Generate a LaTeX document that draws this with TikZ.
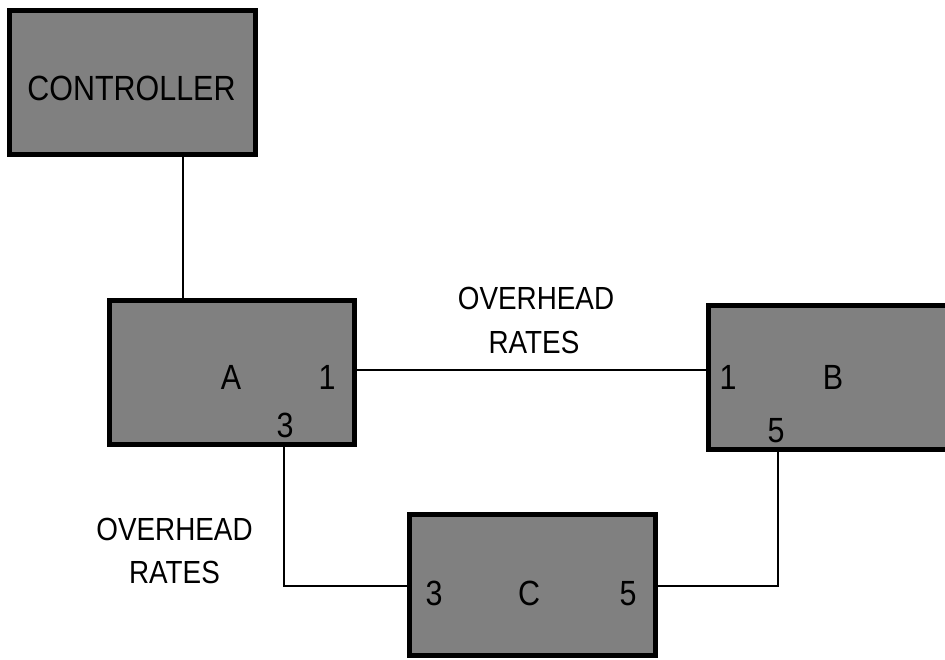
\documentclass[tikz,border=0pt]{standalone}
\usepackage{fontspec}
\setmainfont{Liberation Sans}[FakeStretch=0.87]
\begin{document}
\begin{tikzpicture}[x=1pt,y=-1pt,
  box/.style={draw=black, fill={rgb,255:red,128;green,128;blue,128}, line width=5pt, inner sep=0pt, outer sep=0pt},
  wire/.style={draw=black, line width=1.6pt},
  boxtxt/.style={anchor=base, inner sep=0pt, font=\fontsize{35}{42}\selectfont},
  lbl/.style={anchor=base, inner sep=0pt, font=\fontsize{32}{38}\selectfont}]
\useasboundingbox (0,0) rectangle (945,659);
\clip (0,0) rectangle (945,659);
% boxes
\node[box, minimum width=246pt, minimum height=144pt] (ctrl) at (132.5,82.5) {};
\node[box, minimum width=245pt, minimum height=144pt] (A) at (232,372.5) {};
\node[box, minimum width=245pt, minimum height=144pt] (B) at (831,377.5) {};
\node[box, minimum width=246pt, minimum height=141pt] (C) at (532.5,585) {};
% connector coordinates
\coordinate (cx) at (183,0);
\coordinate (ab) at (0,370);
\coordinate (ax) at (284,0);
\coordinate (cy) at (0,586);
\coordinate (bx) at (778,0);
% connectors
\draw[wire] (ctrl.south -| cx) -- (A.north -| cx);
\draw[wire] (A.east |- ab) -- (B.west |- ab);
\draw[wire] (A.south -| ax) |- (C.west |- cy);
\draw[wire] (C.east |- cy) -| (B.south -| bx);
% box texts
\node[boxtxt] (tctrl) at (131.5,100) {CONTROLLER};
\node[boxtxt] (tA) at (231,389) {A};
\node[boxtxt] (tA1) at (327,389) {1};
\node[boxtxt] (tA3) at (285,437) {3};
\node[boxtxt] (tB1) at (728,389) {1};
\node[boxtxt] (tB) at (833,389) {B};
\node[boxtxt] (tB5) at (776,442) {5};
\node[boxtxt] (tC3) at (434,605) {3};
\node[boxtxt] (tC) at (529,605) {C};
\node[boxtxt] (tC5) at (628,605) {5};
% labels
\node[lbl] (l1a) at (536,309) {OVERHEAD};
\node[lbl] (l1b) at (534,353) {RATES};
\node[lbl] (l2a) at (174.5,540) {OVERHEAD};
\node[lbl] (l2b) at (174.5,583) {RATES};
\end{tikzpicture}
\end{document}
